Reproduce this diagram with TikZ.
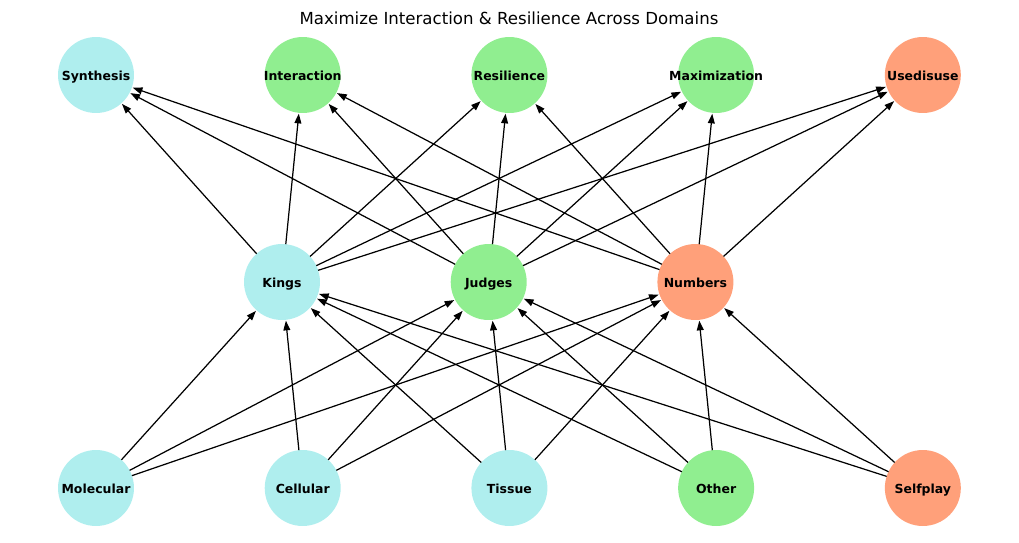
\documentclass[tikz,border=0pt]{standalone}
\usepackage{fontspec}
\setmainfont{DejaVu Sans}
\usetikzlibrary{positioning,arrows.meta}
\definecolor{paleturq}{HTML}{AFEEEE}
\definecolor{lightgreen}{HTML}{90EE90}
\definecolor{lightsalmon}{HTML}{FFA07A}
% label that does not widen the circle
\newcommand{\nlab}[1]{\raisebox{-2.9pt}[0pt][0pt]{\makebox[0pt][c]{#1}}}

\begin{document}
\begin{tikzpicture}[
    x=0.02cm,
    y=-0.02cm,
    font=\fontsize{7.1}{8}\selectfont\bfseries,
    fieldnode/.style={
        circle,
        minimum size=1.52cm,
        inner sep=0pt,
        outer sep=0pt,
        align=center
    },
    cyanN/.style={fieldnode, fill=paleturq},
    greenN/.style={fieldnode, fill=lightgreen},
    salmonN/.style={fieldnode, fill=lightsalmon},
    arrow/.style={-{Triangle[length=5.5pt,width=3.9pt]}, line width=0.7pt, shorten >=0.5pt}
]
\useasboundingbox (0,0) rectangle (1019,542);

% ============================================================
% TITLE
% ============================================================
\node[font=\fontsize{9.45}{11}\selectfont] (title) at (509,18) {Maximize Interaction \& Resilience Across Domains};

% ============================================================
% TOP ROW
% ============================================================
\node[cyanN] (synth) at (96,75) {\nlab{Synthesis}};
\node[greenN, right=2.615cm of synth] (inter) {\nlab{Interaction}};
\node[greenN, right=2.615cm of inter] (resil) {\nlab{Resilience}};
\node[greenN, right=2.615cm of resil] (maxim) {\nlab{Maximization}};
\node[salmonN, right=2.615cm of maxim] (usedis) {\nlab{Usedisuse}};

% ============================================================
% MIDDLE ROW
% ============================================================
\node[cyanN] (kings) at (282,282) {\nlab{Kings}};
\node[greenN, right=2.615cm of kings] (judges) {\nlab{Judges}};
\node[salmonN, right=2.615cm of judges] (numbers) {\nlab{Numbers}};

% ============================================================
% BOTTOM ROW
% ============================================================
\node[cyanN] (molec) at (96,488) {\nlab{Molecular}};
\node[cyanN, right=2.615cm of molec] (cell) {\nlab{Cellular}};
\node[cyanN, right=2.615cm of cell] (tissue) {\nlab{Tissue}};
\node[greenN, right=2.615cm of tissue] (other) {\nlab{Other}};
\node[salmonN, right=2.615cm of other] (selfplay) {\nlab{Selfplay}};

% ============================================================
% MIDDLE -> TOP
% ============================================================
\draw[arrow] (kings) -- (synth);
\draw[arrow] (kings) -- (inter);
\draw[arrow] (kings) -- (resil);
\draw[arrow] (kings) -- (maxim);
\draw[arrow] (kings) -- (usedis);

\draw[arrow] (judges) -- (synth);
\draw[arrow] (judges) -- (inter);
\draw[arrow] (judges) -- (resil);
\draw[arrow] (judges) -- (maxim);
\draw[arrow] (judges) -- (usedis);

\draw[arrow] (numbers) -- (synth);
\draw[arrow] (numbers) -- (inter);
\draw[arrow] (numbers) -- (resil);
\draw[arrow] (numbers) -- (maxim);
\draw[arrow] (numbers) -- (usedis);

% ============================================================
% BOTTOM -> MIDDLE
% ============================================================
\draw[arrow] (molec) -- (kings);
\draw[arrow] (molec) -- (judges);
\draw[arrow] (molec) -- (numbers);

\draw[arrow] (cell) -- (kings);
\draw[arrow] (cell) -- (judges);
\draw[arrow] (cell) -- (numbers);

\draw[arrow] (tissue) -- (kings);
\draw[arrow] (tissue) -- (judges);
\draw[arrow] (tissue) -- (numbers);

\draw[arrow] (other) -- (kings);
\draw[arrow] (other) -- (judges);
\draw[arrow] (other) -- (numbers);

\draw[arrow] (selfplay) -- (kings);
\draw[arrow] (selfplay) -- (judges);
\draw[arrow] (selfplay) -- (numbers);

\end{tikzpicture}
\end{document}
